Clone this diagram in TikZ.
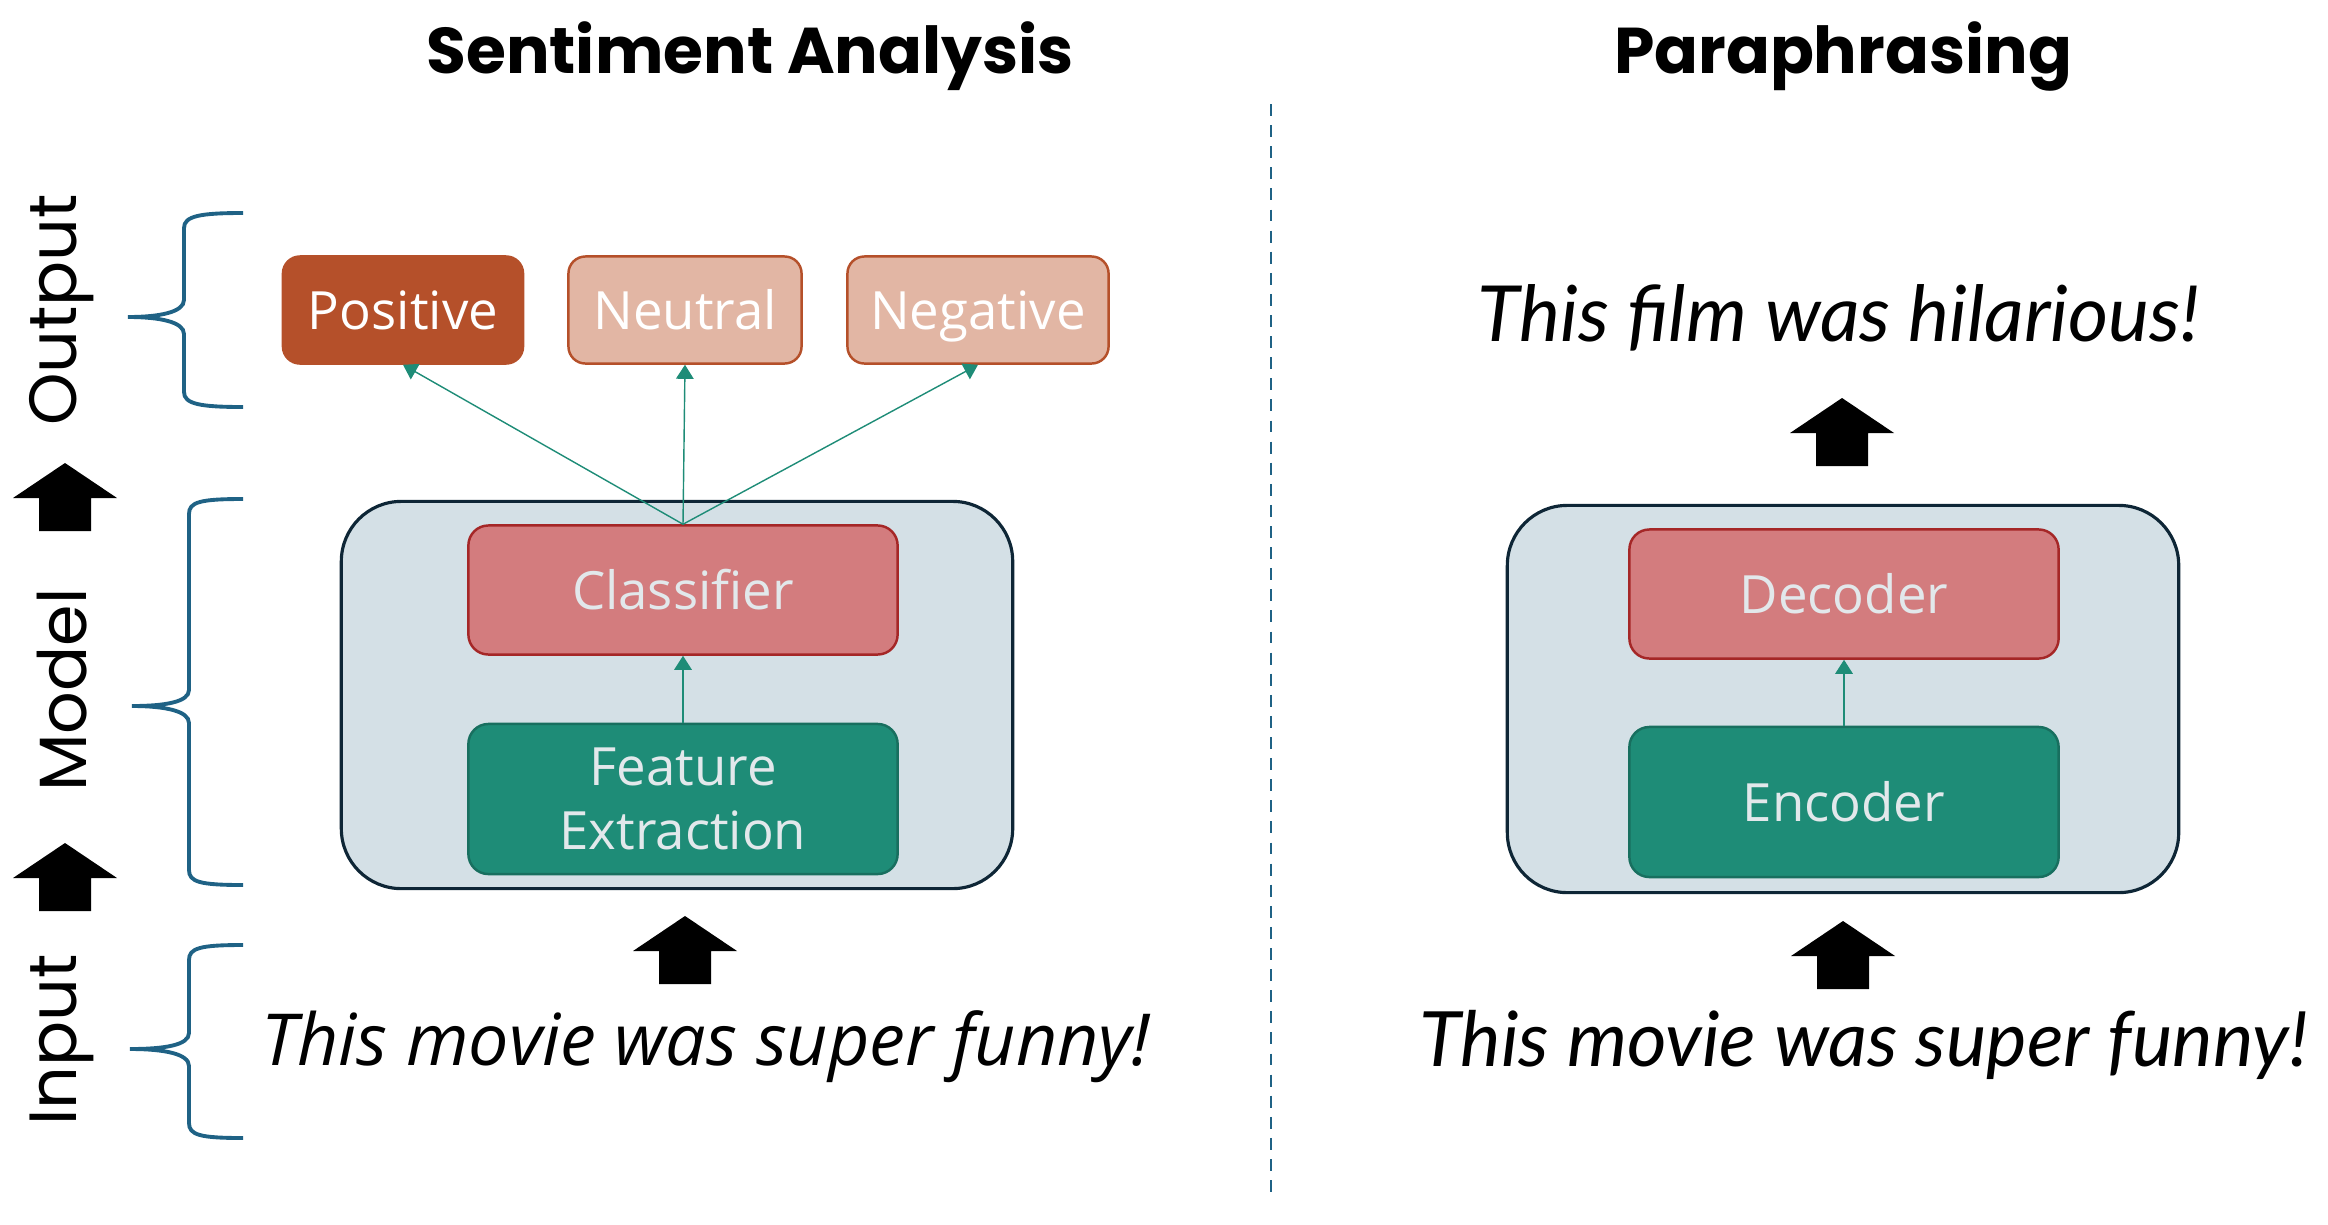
\documentclass[tikz,border=0pt]{standalone}
\usepackage{fontspec}
\setmainfont{Open Sans}
\newfontfamily\headfont{Poppins}
\newfontfamily\latofont{Lato}
\usetikzlibrary{arrows.meta}
\definecolor{braceblue}{HTML}{1F6285}
\definecolor{rust}{HTML}{B5502A}
\definecolor{peach}{HTML}{E2B6A4}
\definecolor{modelfill}{HTML}{D4E0E6}
\definecolor{modeledge}{HTML}{0E2636}
\definecolor{rosefill}{HTML}{D37C7E}
\definecolor{roseedge}{HTML}{A52727}
\definecolor{tealfill}{HTML}{1E8C77}
\definecolor{tealedge}{HTML}{186F5F}
\definecolor{boxtext}{HTML}{E2E8EB}

\begin{document}
\begin{tikzpicture}[x=0.01cm,y=-0.01cm]
\tikzstyle{every node}+=[inner sep=0pt]
\tikzstyle{headline}=[font=\headfont\bfseries\fontsize{18.4}{22}\selectfont]
\tikzstyle{sidetext}=[rotate=90, font=\headfont\fontsize{19}{23}\selectfont]
\tikzstyle{outbox}=[draw=rust, fill=peach, text=white, rounded corners=0.17cm, line width=0.7pt, minimum height=1.07cm, text height=14pt, text depth=3pt, font=\fontsize{15}{18}\selectfont]
\tikzstyle{modelbox}=[draw=modeledge, fill=modelfill, rounded corners=0.6cm, line width=0.9pt, minimum width=6.71cm, minimum height=3.87cm]
\tikzstyle{inbox}=[rounded corners=0.2cm, line width=0.7pt, minimum width=4.29cm, text=boxtext, align=center, font=\fontsize{15}{18}\selectfont]
\tikzstyle{conn}=[tealfill, line width=0.4pt, -{Triangle[width=5pt,length=4pt]}]
\tikzstyle{curly}=[braceblue, line width=1.1pt]
\tikzstyle{sentence}=[font=\itshape\fontsize{20.4}{24}\selectfont]
\tikzstyle{lsentence}=[font=\latofont\itshape\fontsize{22}{26}\selectfont]
\tikzset{upblock/.pic={\fill[black] (0,0) -- (52,35) -- (26,35) -- (26,68) -- (-26,68) -- (-26,35) -- (-52,35) -- cycle;}}
\useasboundingbox (0,0) rectangle (2328,1224);

\node[headline] (title1) at (750,56) {Sentiment Analysis};
\node[headline] (title2) at (1843,56) {Paraphrasing};
\draw[braceblue, line width=0.8pt, dash pattern=on 3.4pt off 2.6pt] (1271,104) -- (1271,1200);

% left side labels
\node[sidetext] (lout) at (62,310) {Output};
\node[sidetext] (lmod) at (62,690) {Model};
\node[sidetext] (lin) at (62,1040) {Input};
\draw[curly] (243,213) .. controls (200,213) and (184,216) .. (184,228) -- (184,300) .. controls (184,312) and (160,317) .. (128,317) .. controls (160,317) and (184,322) .. (184,334) -- (184,392) .. controls (184,404) and (200,407) .. (243,407);
\draw[curly] (243,499) .. controls (200,499) and (189,502) .. (189,514) -- (189,690) .. controls (189,702) and (165,706) .. (132,706) .. controls (165,706) and (189,711) .. (189,723) -- (189,870) .. controls (189,882) and (200,885) .. (243,885);
\draw[curly] (243,945) .. controls (200,945) and (189,948) .. (189,960) -- (189,1033) .. controls (189,1045) and (165,1049) .. (130,1049) .. controls (165,1049) and (189,1054) .. (189,1066) -- (189,1123) .. controls (189,1135) and (200,1138) .. (243,1138);
\pic at (65,463) {upblock};
\pic at (65,843) {upblock};

% sentiment analysis
\node[outbox, fill=rust, minimum width=2.4cm] (pos) at (403,310) {Positive};
\node[outbox, minimum width=2.33cm] (neu) at (685,310) {Neutral};
\node[outbox, minimum width=2.61cm] (neg) at (978,310) {Negative};
\node[modelbox] (sabox) at (677,695) {};
\node[inbox, draw=roseedge, fill=rosefill, minimum height=1.29cm] (clf) at (683,590) {Classifier};
\node[inbox, draw=tealedge, fill=tealfill, minimum height=1.5cm] (feat) at (683,799) {Feature\\Extraction};
\draw[conn] (clf.north) -- (pos.south);
\draw[conn] (clf.north) -- (neu.south);
\draw[conn] (clf.north) -- (neg.south);
\draw[conn] (feat.north) -- (clf.south);
\pic at (685,916) {upblock};
\node[sentence] (sain) at (706,1047) {This movie was super funny!};

% paraphrasing
\node[lsentence] (ppout) at (1839,318) {This film was hilarious!};
\pic at (1842,398) {upblock};
\node[modelbox] (ppbox) at (1843,699) {};
\node[inbox, draw=roseedge, fill=rosefill, minimum height=1.29cm] (dec) at (1844,594) {Decoder};
\node[inbox, draw=tealedge, fill=tealfill, minimum height=1.5cm] (enc) at (1844,802) {Encoder};
\draw[conn] (enc.north) -- (dec.south);
\pic at (1843,921) {upblock};
\node[lsentence, font=\latofont\itshape\fontsize{21.7}{26}\selectfont] (ppin) at (1864,1045) {This movie was super funny!};
\end{tikzpicture}
\end{document}
